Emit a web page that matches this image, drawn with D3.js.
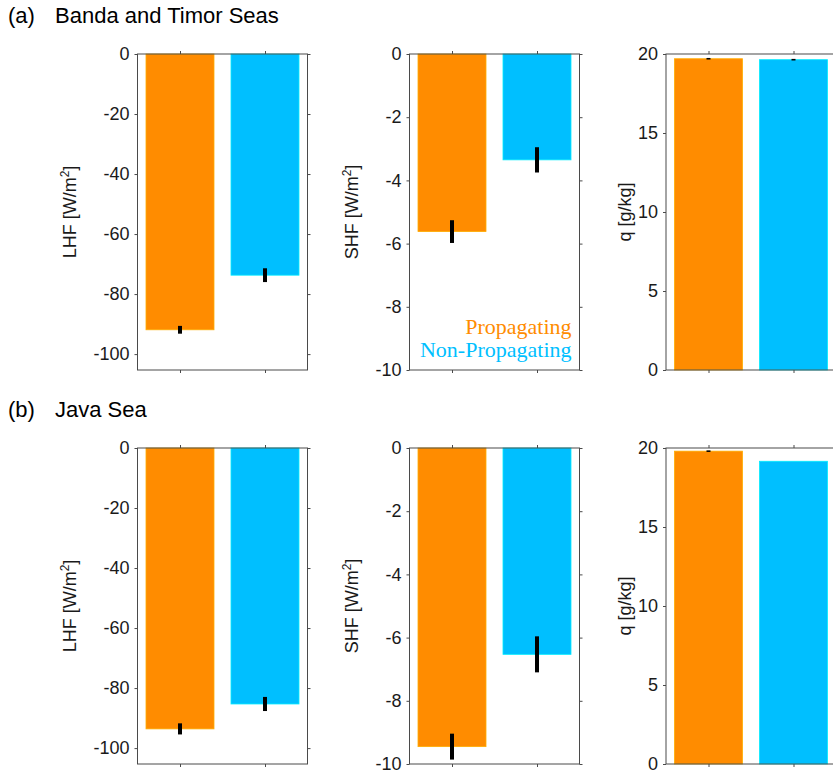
<!DOCTYPE html>
<html>
<head>
<meta charset="utf-8">
<script src="https://cdn.jsdelivr.net/npm/d3@7"></script>
<style>
  body { margin: 0; background: #fff; }
</style>
</head>
<body>
<svg id="chart" width="833" height="775"></svg>
<script>
// Composite means (bars) and error half-widths for each region and variable
const categories = ["Propagating", "Non-Propagating"];
const colors = ["#FF8C00", "#00BFFF"];

const lhfBanda = [-91.9, -73.7];
const lhfBandaErr = [1.3, 2.3];
const shfBanda = [-5.62, -3.35];
const shfBandaErr = [0.36, 0.40];
const qBanda = [19.7, 19.64];
const qBandaErr = [0.05, 0.05];

const lhfJava = [-93.6, -85.3];
const lhfJavaErr = [1.85, 2.35];
const shfJava = [-9.45, -6.53];
const shfJavaErr = [0.41, 0.57];
const qJava = [19.8, 19.16];
const qJavaErr = [0.05, 0.0];

const lhfTicks = [0, -20, -40, -60, -80, -100];
const shfTicks = [0, -2, -4, -6, -8, -10];
const qTicks = [0, 5, 10, 15, 20];

const panelLabels = ["(a)", "(b)"];
const regionNames = ["Banda and Timor Seas", "Java Sea"];

const sansFont = "'Liberation Sans', Arial, Helvetica, sans-serif";
const serifFont = "'Liberation Serif', 'Times New Roman', serif";

const variables = [
  { name: "LHF [W/m", sup: "2", tail: "]", domain: [-105.3, 0], ticks: lhfTicks, labelOff: 62 },
  { name: "SHF [W/m", sup: "2", tail: "]", domain: [-10, 0], ticks: shfTicks, labelOff: 52 },
  { name: "q [g/kg]", sup: "", tail: "", domain: [0, 20], ticks: qTicks, labelOff: 35 }
];

const rows = [
  { vals: [lhfBanda, shfBanda, qBanda], errs: [lhfBandaErr, shfBandaErr, qBandaErr] },
  { vals: [lhfJava, shfJava, qJava], errs: [lhfJavaErr, shfJavaErr, qJavaErr] }
];

// Layout
const colLeft = [137.5, 409.5, 666];
const panelW = 170;
const rowTop = [54, 448];
const panelH = 316;
const axisColor = "#4a4a4a";
const tickLen = 3;

const svg = d3.select("#chart").style("font-family", sansFont);

rows.forEach((row, r) => {
  // region heading
  svg.append("text").attr("x", 8).attr("y", rowTop[r] - 31)
    .attr("font-size", 22).attr("fill", "#000").text(panelLabels[r]);
  svg.append("text").attr("x", 55).attr("y", rowTop[r] - 31)
    .attr("font-size", 22).attr("fill", "#000").text(regionNames[r]);

  variables.forEach((v, c) => {
    const g = svg.append("g").attr("transform", `translate(${colLeft[c]},${rowTop[r]})`);
    const x = d3.scaleBand().domain(categories).range([0, panelW]).paddingInner(0.2).paddingOuter(0.1);
    const xc = d3.scalePoint().domain(categories).range([0, panelW]).padding(0.5);
    const y = d3.scaleLinear().domain(v.domain).range([panelH, 0]);
    const base = Math.max(v.domain[0], Math.min(v.domain[1], 0));

    // bars
    g.selectAll("rect.bar").data(categories).enter().append("rect")
      .attr("class", "bar")
      .attr("x", d => xc(d) - x.bandwidth() / 2)
      .attr("width", x.bandwidth())
      .attr("y", (d, i) => Math.min(y(row.vals[c][i]), y(base)))
      .attr("height", (d, i) => Math.abs(y(row.vals[c][i]) - y(base)))
      .attr("fill", (d, i) => colors[i])
      .attr("stroke", (d, i) => d3.color(colors[i]).brighter(0.6))
      .attr("stroke-width", 0.8);

    // error bars
    g.selectAll("line.err").data(categories).enter().append("line")
      .attr("class", "err")
      .attr("x1", d => xc(d)).attr("x2", d => xc(d))
      .attr("y1", (d, i) => y(row.vals[c][i] - row.errs[c][i]))
      .attr("y2", (d, i) => y(row.vals[c][i] + row.errs[c][i]))
      .attr("stroke", "#000").attr("stroke-width", 4);

    // axes (box with outward ticks on all sides)
    const yl = g.append("g").call(d3.axisLeft(y).tickValues(v.ticks).tickSize(tickLen).tickPadding(5).tickFormat(d => String(d)));
    const yr = g.append("g").attr("transform", `translate(${panelW},0)`)
      .call(d3.axisRight(y).tickValues(v.ticks).tickSize(tickLen).tickFormat(""));
    const xb = g.append("g").attr("transform", `translate(0,${panelH})`)
      .call(d3.axisBottom(xc).tickSize(tickLen).tickFormat(""));
    const xt = g.append("g").call(d3.axisTop(xc).tickSize(tickLen).tickFormat(""));
    [yl, yr, xb, xt].forEach(a => {
      a.attr("font-family", null).attr("font-size", null);
      a.select(".domain").attr("stroke", axisColor).attr("d", null);
      a.selectAll(".tick line").attr("stroke", axisColor);
      a.selectAll("text").attr("font-size", 18).attr("fill", "#1a1a1a");
    });
    g.append("rect").attr("x", 0).attr("y", 0).attr("width", panelW).attr("height", panelH)
      .attr("fill", "none").attr("stroke", axisColor).attr("stroke-width", 1);

    // y label
    const lab = g.append("text")
      .attr("transform", `translate(${-v.labelOff},${panelH / 2}) rotate(-90)`)
      .attr("text-anchor", "middle").attr("font-size", 18).attr("fill", "#1a1a1a");
    lab.append("tspan").text(v.name);
    if (v.sup) {
      lab.append("tspan").attr("dy", -7).attr("font-size", 12).text(v.sup);
      lab.append("tspan").attr("dy", 7).text(v.tail);
    }

    // legend in SHF panel of the first row
    if (r === 0 && c === 1) {
      categories.forEach((cat, i) => {
        g.append("text")
          .attr("x", panelW - 8).attr("y", 280 + i * 23)
          .attr("text-anchor", "end")
          .style("font-family", serifFont)
          .attr("font-size", 22)
          .attr("fill", colors[i])
          .text(cat);
      });
    }
  });
});
</script>
</body>
</html>
